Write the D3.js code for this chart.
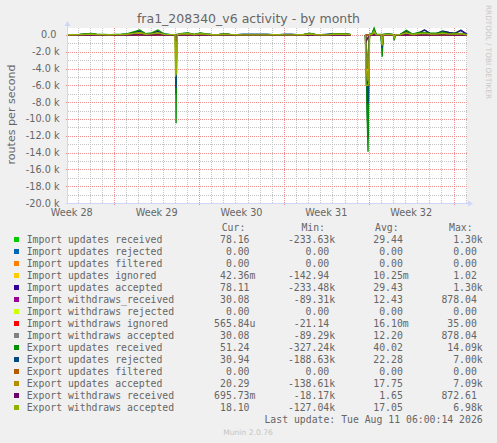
<!DOCTYPE html>
<html>
<head>
<meta charset="utf-8">
<script src="https://cdn.jsdelivr.net/npm/d3@7/dist/d3.min.js"></script>
<style>
html, body { margin: 0; padding: 0; background: #f0f0f0; }
svg { display: block; }
text { font-family: "DejaVu Sans", sans-serif; fill: #666; }
.mono { font-family: "DejaVu Sans Mono", monospace; }
</style>
</head>
<body>
<svg id="chart" width="497" height="443"></svg>
<script>
// hours after the start of the 33 day window (null value = no data)
var hours = [0,12,24,36,48,60,72,84,96,108,120,132,144,156,168,180,192,204,
    214,215,216,217,218,
    228,240,252,264,276,288,300,312,324,336,348,360,372,384,396,408,420,432,444,456,468,480,492,504,516,528,540,552,
    562,577,591,
    592,596,598,599,
    604,608,612,622,624,626,636,646,648,650,
    660,672,684,696,708,720,732,744,756,768,780,792];

var seriesNames = ["Import updates received", "Import updates rejected", "Import updates filtered",
    "Import updates ignored", "Import updates accepted", "Import withdraws_received",
    "Import withdraws rejected", "Import withdraws ignored", "Import withdraws accepted",
    "Export updates received", "Export updates rejected", "Export updates filtered",
    "Export updates accepted", "Export withdraws received", "Export withdraws accepted"];

var seriesColors = ["#00cc00", "#0066b3", "#ff8000", "#ffcc00", "#330099", "#990099", "#ccff00",
    "#ff0000", "#808080", "#008f00", "#00487d", "#b35a00", "#b38f00", "#6b006b", "#8fb300"];

var importUpdatesReceived = [30,35,40,90,140,50,50,40,45,60,110,280,450,110,180,420,90,40,
    40,40,-7000,40,40,
    150,180,40,180,90,40,40,110,40,35,30,30,30,30,30,35,35,30,30,35,35,150,45,35,30,110,90,110,
    40,null,0,
    -2000,-12300,-1000,40,
    120,650,80,50,-1900,50,100,40,-450,40,
    70,400,80,220,600,150,180,450,300,200,560,80];
var importUpdatesRejected = [0,0,0,0,0,0,0,0,0,0,0,0,0,0,0,0,0,0,
    0,0,0,0,0,
    0,0,0,0,0,0,0,0,0,0,0,0,0,0,0,0,0,0,0,0,0,0,0,0,0,0,0,0,
    0,null,0,
    0,0,0,0,
    0,0,0,0,0,0,0,0,0,0,
    0,0,0,0,0,0,0,0,0,0,0,0];
var importUpdatesFiltered = [0,0,0,0,0,0,0,0,0,0,0,0,0,0,0,0,0,0,
    0,0,0,0,0,
    0,0,0,0,0,0,0,0,0,0,0,0,0,0,0,0,0,0,0,0,0,0,0,0,0,0,0,0,
    0,null,0,
    0,0,0,0,
    0,0,0,0,0,0,0,0,0,0,
    0,0,0,0,0,0,0,0,0,0,0,0];
var importUpdatesIgnored = [0,0,0,0,0,0,0,0,0,0,0,0,0,0,0,0,0,0,
    0,0,-1,0,0,
    0,0,0,0,0,0,0,0,0,0,0,0,0,0,0,0,0,0,0,0,0,0,0,0,0,0,0,0,
    0,null,0,
    0,-140,0,0,
    0,1,0,0,0,0,0,0,0,0,
    0,0,0,0,0,0,0,0,0,0,0,0];
var importUpdatesAccepted = [30,35,40,90,140,50,50,40,45,60,110,280,450,110,180,420,90,40,
    40,40,-7000,40,40,
    150,180,40,180,90,40,40,110,40,35,30,30,30,30,30,35,35,30,30,35,35,150,45,35,30,110,90,110,
    40,null,0,
    -2000,-12300,-1000,40,
    120,650,80,50,-1500,50,100,40,-400,40,
    70,400,80,220,600,150,180,450,300,200,560,78];
var importWithdrawsReceived = [12,12,14,20,30,12,12,12,12,15,30,70,110,30,45,100,20,14,
    14,14,-2700,14,14,
    50,60,12,60,30,12,12,40,12,12,10,10,10,10,10,12,12,10,10,12,12,50,14,12,10,40,30,40,
    12,null,0,
    -1000,-4000,-800,14,
    30,200,20,14,-600,14,30,12,-100,12,
    15,120,20,60,200,40,50,150,100,60,180,30];
var importWithdrawsRejected = [0,0,0,0,0,0,0,0,0,0,0,0,0,0,0,0,0,0,
    0,0,0,0,0,
    0,0,0,0,0,0,0,0,0,0,0,0,0,0,0,0,0,0,0,0,0,0,0,0,0,0,0,0,
    0,null,0,
    0,0,0,0,
    0,0,0,0,0,0,0,0,0,0,
    0,0,0,0,0,0,0,0,0,0,0,0];
var importWithdrawsIgnored = [0,0,0,0,0,0,0,0,0,0,0,0,0,0,0,0,0,0,
    0,0,0,0,0,
    0,0,0,0,0,0,0,0,0,0,0,0,0,0,0,0,0,0,0,0,0,0,0,0,0,0,0,0,
    0,null,0,
    0,-21,0,0,
    0,0,0,0,0,0,0,0,0,0,
    0,0,0,0,0,0,0,0,0,0,0,0];
var importWithdrawsAccepted = [12,12,14,20,30,12,12,12,12,15,30,70,110,30,45,100,20,14,
    14,14,-2700,14,14,
    50,60,12,60,30,12,12,40,12,12,10,10,10,10,10,12,12,10,10,12,12,50,14,12,10,40,30,40,
    12,null,0,
    -1000,-4000,-800,14,
    30,200,20,14,-600,14,30,12,-100,12,
    15,120,20,60,200,40,50,150,100,60,180,30];
var exportUpdatesReceived = [40,50,60,120,180,60,70,50,60,80,150,380,600,150,250,600,120,50,
    50,60,-10500,60,50,
    200,250,60,250,120,50,50,150,60,50,40,40,40,40,40,40,40,40,40,40,40,200,60,40,40,150,120,150,
    40,null,0,
    -2500,-13900,-1500,60,
    150,800,100,60,-2600,60,120,50,-600,50,
    80,550,100,300,300,200,200,350,150,200,150,50];
var exportUpdatesRejected = [25,25,30,40,50,30,30,25,30,30,60,150,250,60,100,230,50,30,
    30,30,-6300,30,30,
    80,90,30,90,50,30,30,60,30,30,90,90,90,90,90,30,30,90,90,30,30,70,30,30,90,60,50,60,
    30,null,0,
    -3000,-8200,-1200,30,
    60,300,40,30,-1500,30,60,25,-200,25,
    40,150,40,100,150,80,80,150,80,80,100,80];
var exportUpdatesFiltered = [0,0,0,0,0,0,0,0,0,0,0,0,0,0,0,0,0,0,
    0,0,0,0,0,
    0,0,0,0,0,0,0,0,0,0,0,0,0,0,0,0,0,0,0,0,0,0,0,0,0,0,0,0,
    0,null,0,
    0,0,0,0,
    0,0,0,0,0,0,0,0,0,0,
    0,0,0,0,0,0,0,0,0,0,0,0];
var exportUpdatesAccepted = [20,20,25,50,70,25,25,20,25,30,70,160,240,70,110,220,50,25,
    25,-3000,-4500,-2000,25,
    100,120,25,110,60,25,25,80,25,20,20,20,20,20,20,20,20,20,20,20,25,100,25,25,20,80,60,80,
    20,null,0,
    -4000,-5500,-3000,25,
    60,350,50,25,-1200,25,60,20,-250,20,
    30,200,40,120,150,80,80,150,80,80,120,20];
var exportWithdrawsReceived = [2,2,2,3,4,2,2,2,2,2,4,8,12,4,5,10,3,2,
    2,2,-700,2,2,
    4,5,2,5,3,2,2,3,2,2,1,1,1,1,1,2,2,1,1,2,2,4,2,2,1,3,3,3,
    2,null,0,
    -800,-300,-200,2,
    3,20,2,2,-150,2,3,2,-20,2,
    2,10,2,5,15,3,4,10,8,5,12,1];
var exportWithdrawsAccepted = [30,35,40,70,100,40,40,35,40,50,90,200,300,90,140,280,70,40,
    40,-4800,-4700,-4500,40,
    120,150,40,140,70,35,35,90,40,30,20,20,20,20,20,30,30,20,20,30,35,120,40,35,20,90,70,90,
    40,null,0,
    -6000,-6000,-5600,40,
    80,450,60,40,-1200,40,80,30,-300,30,
    50,250,60,150,200,100,100,200,100,100,150,20];

var seriesValues = [importUpdatesReceived, importUpdatesRejected, importUpdatesFiltered,
    importUpdatesIgnored, importUpdatesAccepted, importWithdrawsReceived, importWithdrawsRejected,
    importWithdrawsIgnored, importWithdrawsAccepted, exportUpdatesReceived, exportUpdatesRejected,
    exportUpdatesFiltered, exportUpdatesAccepted, exportWithdrawsReceived, exportWithdrawsAccepted];

var legendCur = ["78.16","0.00","0.00","42.36m","78.11","30.08","0.00","565.84u","30.08",
    "51.24","30.94","0.00","20.29","695.73m","18.10"];
var legendMin = ["-233.63k","0.00","0.00","-142.94","-233.48k","-89.31k","0.00","-21.14","-89.29k",
    "-327.24k","-188.63k","0.00","-138.61k","-18.17k","-127.04k"];
var legendAvg = ["29.44","0.00","0.00","10.25m","29.43","12.43","0.00","16.10m","12.20",
    "40.02","22.28","0.00","17.75","1.65","17.05"];
var legendMax = ["1.30k","0.00","0.00","1.02","1.30k","878.04","0.00","35.00","878.04",
    "14.09k","7.00k","0.00","7.09k","872.61","6.98k"];

var yMajorTicks = [0,-2000,-4000,-6000,-8000,-10000,-12000,-14000,-16000,-18000,-20000];
var yMinorTicks = [-1000,-3000,-5000,-7000,-9000,-11000,-13000,-15000,-17000,-19000];

// the graph's right edge sits a few hours before the printed update time
var endTime = new Date(Date.UTC(2026, 7, 11, 2, 30, 0));
var startTime = new Date(endTime.getTime() - 33 * 864e5);

var plot = {left: 67, right: 467, top: 28, bottom: 203};

var svg = d3.select("#chart");

var x = d3.scaleUtc().domain([startTime, endTime]).range([plot.left, plot.right]);
var y = d3.scaleLinear().domain([-20000, 833.33]).range([plot.bottom, plot.top]);

// dotted grid patterns (one pixel on, one off)
var defs = svg.append("defs");
function dotPattern(id, w, h, color) {
    defs.append("pattern").attr("id", id)
        .attr("patternUnits", "userSpaceOnUse")
        .attr("width", w).attr("height", h)
        .append("rect").attr("width", 1).attr("height", 1).attr("fill", color);
}
dotPattern("hGrid", 2, 1, "#c4c4c4");
dotPattern("vGrid", 1, 2, "#c4c4c4");
dotPattern("hMajor", 2, 1, "#ec8e8e");
dotPattern("vMajor", 1, 2, "#ec8e8e");

// canvas
svg.append("rect")
    .attr("x", plot.left).attr("y", plot.top)
    .attr("width", plot.right - plot.left).attr("height", plot.bottom - plot.top)
    .attr("fill", "#ffffff");

// title
svg.append("text")
    .attr("x", 248.5).attr("y", 23)
    .attr("text-anchor", "middle")
    .style("font-size", "12.5px")
    .text("fra1_208340_v6 activity - by month");

// grid
var grid = svg.append("g");
var mondays = d3.utcMonday.range(startTime, endTime);
var days = d3.utcDay.range(startTime, endTime).filter(function (d) { return d.getUTCDay() !== 1; });

grid.selectAll("rect.vminor").data(days).enter().append("rect")
    .attr("class", "vminor")
    .attr("x", function (d) { return Math.round(x(d)); })
    .attr("y", plot.top).attr("width", 1).attr("height", plot.bottom - plot.top)
    .attr("fill", "url(#vGrid)");
grid.selectAll("rect.hminor").data(yMinorTicks).enter().append("rect")
    .attr("class", "hminor")
    .attr("x", plot.left).attr("width", plot.right - plot.left)
    .attr("y", function (d) { return Math.round(y(d)); }).attr("height", 1)
    .attr("fill", "url(#hGrid)");
grid.selectAll("rect.vmajor").data(mondays).enter().append("rect")
    .attr("class", "vmajor")
    .attr("x", function (d) { return Math.round(x(d)); })
    .attr("y", plot.top).attr("width", 1).attr("height", plot.bottom - plot.top + 3)
    .attr("fill", "url(#vMajor)");
grid.selectAll("rect.hmajor").data(yMajorTicks).enter().append("rect")
    .attr("class", "hmajor")
    .attr("x", plot.left - 2).attr("width", plot.right - plot.left + 2)
    .attr("y", function (d) { return Math.round(y(d)); }).attr("height", 1)
    .attr("fill", "url(#hMajor)");

// y labels
svg.selectAll("text.ylab").data(yMajorTicks).enter().append("text")
    .attr("class", "ylab")
    .attr("x", 59.5)
    .attr("y", function (d) { return y(d) + 3.5; })
    .attr("text-anchor", "end")
    .style("font-size", "9.7px")
    .text(function (d) { return d === 0 ? "0.0\u00a0" : (d / 1000).toFixed(1) + " k"; });

// x labels, centred in the week
var weekStarts = d3.utcMonday.range(d3.utcMonday.floor(startTime), endTime)
    .filter(function (d) { return d3.utcHour.offset(d, 84) < endTime; });
svg.selectAll("text.xlab").data(weekStarts).enter().append("text")
    .attr("class", "xlab")
    .attr("x", function (d) { return x(d3.utcHour.offset(d, 84)); })
    .attr("y", 216)
    .attr("text-anchor", "middle")
    .style("font-size", "9.7px")
    .text(function (d) { return "Week " + d3.utcFormat("%V")(d); });

// unit label
svg.append("text")
    .attr("transform", "translate(14.5," + ((plot.top + plot.bottom) / 2 - 1) + ") rotate(-90)")
    .attr("text-anchor", "middle")
    .style("font-size", "11.1px")
    .text("routes per second");

// watermark
svg.append("text")
    .attr("transform", "translate(485.5,5) rotate(90)")
    .style("font-size", "7.3px")
    .style("fill", "#c8c8c8")
    .text("RRDTOOL / TOBI OETIKER");

// series
var line = d3.line()
    .defined(function (d) { return d.v !== null; })
    .x(function (d) { return x(d.t); })
    .y(function (d) { return y(d.v); });

var lines = svg.append("g");
seriesValues.forEach(function (vals, i) {
    var pts = vals.map(function (v, j) {
        return {t: new Date(startTime.getTime() + hours[j] * 36e5), v: v};
    });
    lines.append("path")
        .attr("d", line(pts))
        .attr("fill", "none")
        .attr("stroke", seriesColors[i])
        .attr("stroke-width", 1.4);
});

// axes with arrows
var axisColor = "#cfd6f8";
svg.append("line").attr("x1", plot.left + 0.5).attr("x2", plot.left + 0.5)
    .attr("y1", plot.bottom + 1).attr("y2", 24).attr("stroke", axisColor);
svg.append("line").attr("x1", plot.left - 1).attr("x2", 470)
    .attr("y1", plot.bottom + 0.5).attr("y2", plot.bottom + 0.5).attr("stroke", axisColor);
svg.append("path").attr("d", "M64.5,26L70.5,26L67.5,21Z").attr("fill", axisColor);
svg.append("path").attr("d", "M468,200.5L468,206.5L473,203.5Z").attr("fill", axisColor);

// legend
var legendTop = 239.5, rowStep = 12;
var colRight = [249.5, 329.2, 402.8, 476.8];
var colHead = ["Cur:", "Min:", "Avg:", "Max:"];

var legend = svg.append("g").style("font-size", "9.8px");

legend.selectAll("text.head").data(colHead).enter().append("text")
    .attr("class", "head mono")
    .attr("x", function (d, i) { return colRight[i] - 27.8; })
    .attr("y", legendTop - rowStep + 3.5)
    .text(function (d) { return d; });

function splitValue(s) {
    var last = s.charAt(s.length - 1);
    if (/[kmu]/.test(last)) return [s.slice(0, -1), last];
    return [s, ""];
}

seriesNames.forEach(function (name, i) {
    var cy = legendTop + i * rowStep;
    legend.append("rect")
        .attr("x", 14).attr("y", cy - 2.5)
        .attr("width", 5).attr("height", 5)
        .attr("fill", seriesColors[i]);
    legend.append("text").attr("class", "mono")
        .attr("x", 26.7).attr("y", cy + 3.5)
        .text(name);
    [legendCur, legendMin, legendAvg, legendMax].forEach(function (col, c) {
        var parts = splitValue(col[i]);
        legend.append("text").attr("class", "mono")
            .attr("x", colRight[c]).attr("y", cy + 3.5)
            .attr("text-anchor", "end")
            .text(parts[0]);
        if (parts[1]) {
            legend.append("text").attr("class", "mono")
                .attr("x", colRight[c]).attr("y", cy + 3.5)
                .text(parts[1]);
        }
    });
});

legend.append("text").attr("class", "mono")
    .attr("x", 482.7).attr("y", legendTop + 15 * rowStep + 3.5)
    .attr("text-anchor", "end")
    .text("Last update: Tue Aug 11 06:00:14 2026");

svg.append("text")
    .attr("x", 248).attr("y", 435)
    .attr("text-anchor", "middle")
    .style("font-size", "7.6px")
    .style("fill", "#c4c4c4")
    .text("Munin 2.0.76");
</script>
</body>
</html>
